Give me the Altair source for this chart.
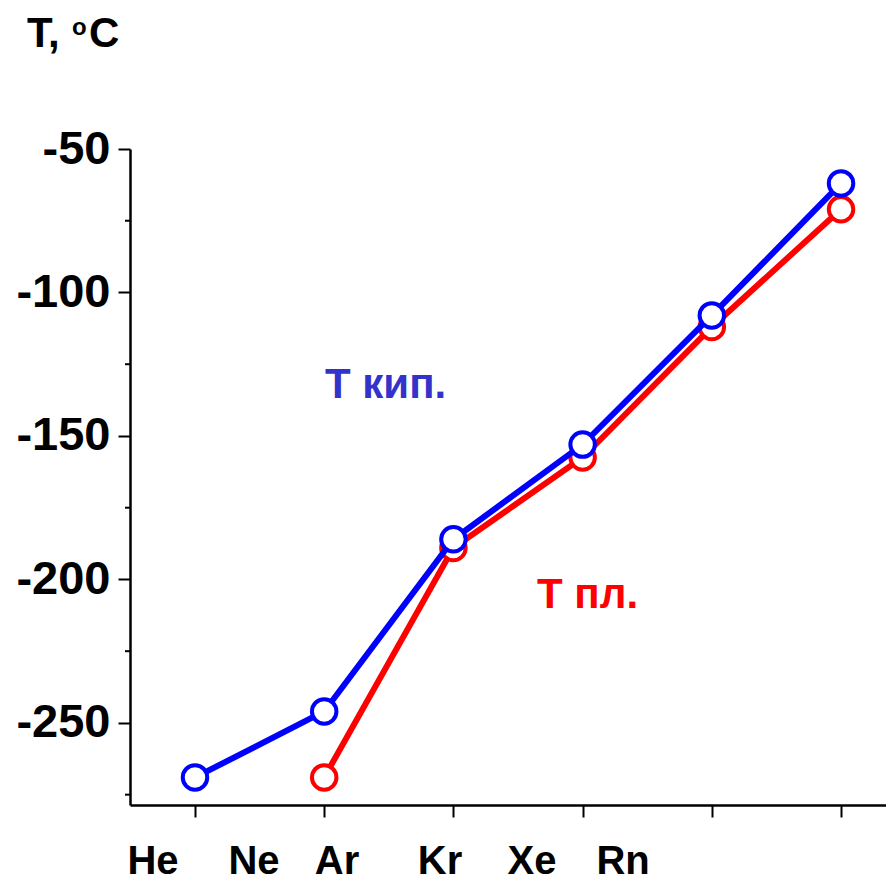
import altair as alt
import pandas as pd

# data
elements = ["He", "Ne", "Ar", "Kr", "Xe", "Rn"]
label_pos = [0.675, 1.457, 2.099, 2.896, 3.608, 4.313]

boil_x = [1, 2, 3, 4, 5, 6]
boil_t = [-269, -246, -186, -153, -108, -62]

melt_x = [2, 3, 4, 5, 6]
melt_t = [-269, -189, -157.5, -112, -71]

major_ticks = [-50, -100, -150, -200, -250]
minor_ticks = [-75, -125, -175, -225, -275]
x_ticks = [1, 2, 3, 4, 5, 6]

FONT = "Liberation Sans"

boil_df = pd.DataFrame({"x": boil_x, "t": boil_t})
melt_df = pd.DataFrame({"x": melt_x, "t": melt_t})
minor_df = pd.DataFrame({"t": minor_ticks})
labels_df = pd.DataFrame({"x": label_pos, "name": elements})
series_lbl = pd.DataFrame({"x": [2.006, 3.647], "t": [-136.8, -209.9],
                           "txt": ["T кип.", "T пл."]})

xscale = alt.Scale(domain=[0.497, 6.348], nice=False, zero=False)
yscale = alt.Scale(domain=[-278.6, -50], nice=False, zero=False)

xax = alt.Axis(values=x_ticks, labels=False, title=None, grid=False,
               tickSize=12, tickWidth=2, domainWidth=2.5, domainColor="black",
               tickColor="black")
yax = alt.Axis(values=major_ticks, title=None, grid=False, tickSize=12,
               tickWidth=2, domainWidth=2.5, domainColor="black", tickColor="black",
               labelFontSize=47, labelFont=FONT, labelFontWeight="bold",
               labelColor="black", labelPadding=8,
               labelExpr="datum.value < 0 ? '-' + abs(datum.value) : '' + datum.value")

X = lambda: alt.X("x:Q", scale=xscale, axis=xax)
Y = lambda: alt.Y("t:Q", scale=yscale, axis=yax)

minor = alt.Chart(minor_df).mark_rule(color="black", strokeWidth=2).encode(
    y=alt.Y("t:Q", scale=yscale, axis=yax), x=alt.value(-5), x2=alt.value(0))

def series(df, color):
    line = alt.Chart(df).mark_line(color=color, strokeWidth=6).encode(x=X(), y=Y())
    pts = alt.Chart(df).mark_point(shape="circle", size=600, filled=False,
                                   fill="white", fillOpacity=1, stroke=color,
                                   strokeWidth=4, opacity=1).encode(x=X(), y=Y())
    return line + pts

red = series(melt_df, "#ff0000")
blue = series(boil_df, "#0000ff")

elem_text = alt.Chart(labels_df).mark_text(
    font=FONT, fontSize=40, fontWeight="bold", color="black",
    align="center", baseline="alphabetic").encode(
    x=alt.X("x:Q", scale=xscale, axis=xax), y=alt.value(725), text="name:N")

ser_text = alt.Chart(series_lbl).mark_text(
    font=FONT, fontSize=42, fontWeight="bold", align="left",
    baseline="alphabetic").encode(
    x=alt.X("x:Q", scale=xscale, axis=xax), y=alt.Y("t:Q", scale=yscale, axis=yax),
    text="txt:N",
    color=alt.Color("txt:N", scale=alt.Scale(domain=["T кип.", "T пл."],
                                             range=["#3333cc", "#ff0000"]),
                    legend=None))

title_df = pd.DataFrame({"a": ["T,"], "b": ["o"], "c": ["C"]})
t1 = alt.Chart(title_df).mark_text(font=FONT, fontSize=42, fontWeight="bold",
                                   color="black", align="left",
                                   baseline="alphabetic").encode(
    x=alt.value(-103), y=alt.value(-102), text="a:N")
t2 = alt.Chart(title_df).mark_text(font=FONT, fontSize=24, fontWeight="bold",
                                   color="black", align="left",
                                   baseline="alphabetic").encode(
    x=alt.value(-58), y=alt.value(-114), text="b:N")
t3 = alt.Chart(title_df).mark_text(font=FONT, fontSize=42, fontWeight="bold",
                                   color="black", align="left",
                                   baseline="alphabetic").encode(
    x=alt.value(-41), y=alt.value(-102), text="c:N")

chart = alt.layer(minor, red, blue, elem_text, ser_text, t1, t2, t3).properties(
    width=756, height=656,
    padding={"left": 122, "top": 141, "right": 0, "bottom": 78},
    autosize=alt.AutoSizeParams(type="none"),
    background="white",
).configure_view(stroke=None)

chart.save("out.html", embed_options={"renderer": "svg", "actions": False})
